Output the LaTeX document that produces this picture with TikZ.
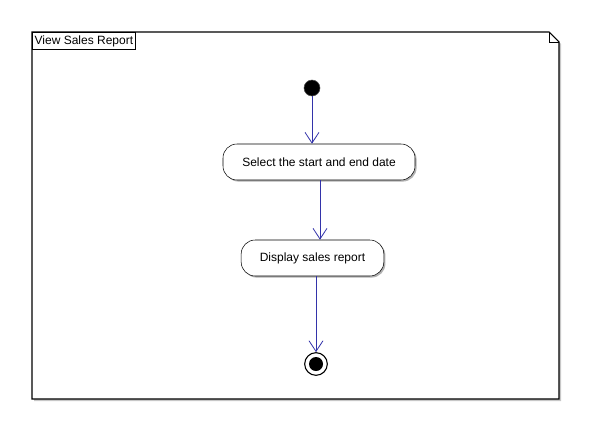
\documentclass[tikz,border=0pt]{standalone}
\usepackage{fontspec}
\setmainfont{Liberation Sans}
\usetikzlibrary{arrows.meta,shadows}
\definecolor{flow}{RGB}{51,51,170}
\begin{document}
\begin{tikzpicture}[x=0.75pt,y=-0.75pt,
  actbox/.style={draw=black,fill=white,rounded corners=10.5pt,minimum height=27pt,inner sep=0pt,font=\fontsize{9pt}{10pt}\selectfont,
    drop shadow={shadow xshift=1.2pt,shadow yshift=-1.2pt,fill=black!30,opacity=1}},
  flowline/.style={draw=flow,line width=0.6pt,-{Straight Barb[length=8pt,width=10.5pt,line width=0.6pt]}}]
\useasboundingbox (0,0) rectangle (592,432);
% frame shadow
\fill[black!22] (34,34) -- (551,34) -- (561,44) -- (561,401) -- (34,401) -- cycle;
\draw[black,fill=white,line width=0.8pt] (32,32) -- (549,32) -- (559,42) -- (559,399) -- (32,399) -- cycle;
\draw[black,line width=0.6pt] (549,32) -- (549,42) -- (559,42);
\node[draw=black,line width=0.6pt,anchor=north west,minimum width=77.25pt,minimum height=12.75pt,inner sep=0pt,font=\fontsize{9pt}{10pt}\selectfont] (title) at (32,32) {View Sales Report};
% nodes
\node[circle,fill=black,draw=black!70,minimum size=12pt,inner sep=0pt] (init) at (312,88) {};
\node[actbox,minimum width=144pt] (a1) at (319,162) {Select the start and end date};
\node[actbox,minimum width=107pt] (a2) at (312.5,258) {Display sales report};
\node[circle,draw=black,fill=white,line width=0.8pt,minimum size=17pt,inner sep=0pt] (fin) at (316,364) {};
\node[circle,fill=black,minimum size=10.5pt,inner sep=0pt] (finc) at (fin) {};
% connectors
\draw[flowline] (init) -- (init |- a1.north);
\draw[flowline] (a1.south -| 320,0) -- (320,0 |- a2.north);
\draw[flowline] (a2.south -| fin) -- (fin.north);
\end{tikzpicture}
\end{document}
